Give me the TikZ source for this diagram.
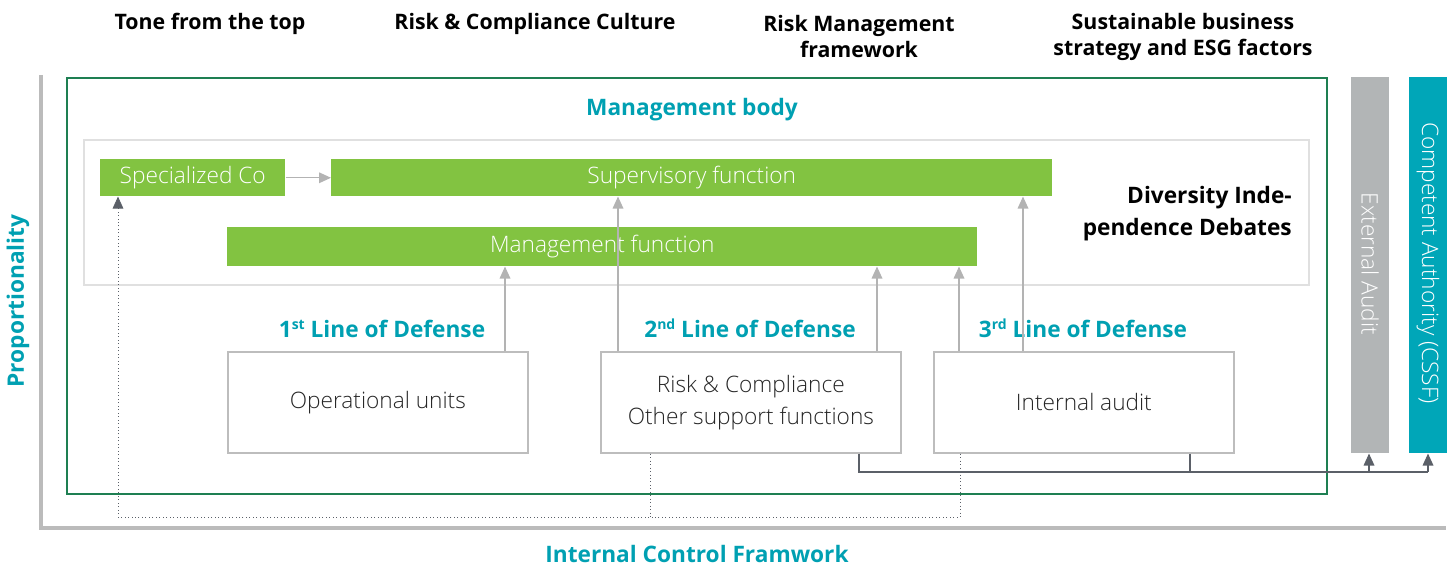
\documentclass[tikz,border=0pt]{standalone}
\usepackage{fontspec}
\setmainfont{Open Sans}
\newfontfamily\lightfont{Open Sans Light}
\usetikzlibrary{arrows.meta}
\definecolor{icfteal}{HTML}{00A0B2}
\definecolor{barteal}{HTML}{00A6B8}
\definecolor{icfgreen}{HTML}{82C341}
\definecolor{frgreen}{HTML}{1E7F52}
\definecolor{axisgray}{HTML}{BBBBBB}
\definecolor{panelgray}{HTML}{E0E0E0}
\definecolor{boxgray}{HTML}{BDBDBD}
\definecolor{arrgray}{HTML}{B3B3B3}
\definecolor{darkline}{HTML}{5B6068}
\definecolor{extgray}{HTML}{B2B5B6}
\newcommand\pxu{0.75pt}
\newcommand\headsize{\fontsize{16}{19.5}\selectfont}
\newcommand\bodysize{\fontsize{17}{24}\selectfont}
\newcommand\ordsup[1]{\raisebox{0.36em}[0pt][0pt]{\fontsize{10.5}{10.5}\selectfont #1}}
\begin{document}
\begin{tikzpicture}[x=0.75pt,y=-0.75pt,
  heading/.style={font=\headsize\bfseries, text=black, align=center, inner sep=0pt},
  tealhead/.style={font=\bodysize\bfseries, text=icfteal, inner sep=0pt},
  greenbar/.style={fill=icfgreen, draw=none, inner sep=0pt, anchor=north west,
    text=white, font=\bodysize\lightfont},
  unitbox/.style={draw=boxgray, line width=1.3pt, fill=white, inner sep=0pt,
    anchor=north west, align=center, font=\bodysize\lightfont, text=black!85},
  sidebar/.style={inner sep=0pt, anchor=north west, draw=none},
  sidetext/.style={rotate=-90, text=white, font=\bodysize\lightfont, inner sep=0pt},
  garrow/.style={draw=arrgray, line width=0.9pt, -{Triangle[length=9pt,width=8pt]}},
  dline/.style={draw=darkline, line width=0.9pt},
  darrow/.style={draw=darkline, line width=0.9pt, -{Triangle[length=9pt,width=8pt]}},
  dotline/.style={draw=darkline, line width=0.6pt, dotted},
]
\useasboundingbox (0,0) rectangle (1456,567);

% axis frame
\draw[axisgray, line width=2.4pt] (41,75) -- (41,528) -- (1446,528);
\node[tealhead, rotate=90] (prop) at (18,301) {Proportionality};
\node[tealhead] (icf) at (697,554) {Internal Control Framwork};

% top headings
\node[heading] (tone) at (210,24) {Tone from the top};
\node[heading] (culture) at (535,24) {Risk \& Compliance Culture};
\node[heading] (rmf) at (859,37) {Risk Management\\framework};
\node[heading] (esg) at (1183,37) {Sustainable business\\strategy and ESG factors};

% management body frame and panel
\draw[frgreen, line width=1.1pt] (67,78) rectangle (1327,494);
\node[tealhead] (mb) at (692,110) {Management body};
\draw[panelgray, line width=1.1pt] (84,140) rectangle (1309,285);

% green bars
\node[greenbar, minimum width=185*\pxu, minimum height=37*\pxu] (spec) at (100,159) {Specialized Co};
\node[greenbar, minimum width=721*\pxu, minimum height=37*\pxu] (sup) at (331,159) {Supervisory function};
\node[greenbar, minimum width=750*\pxu, minimum height=39*\pxu] (mgmt) at (227,227) {Management function};
\draw[garrow] (spec.east) -- (sup.west);

\node[tealhead, text=black, align=right, anchor=east] (div) at (1292,214) {Diversity Inde-\\pendence Debates};

% lines of defense
\node[tealhead] (l1) at (382,329) {1\ordsup{st} Line of Defense};
\node[tealhead] (l2) at (750,329) {2\ordsup{nd} Line of Defense};
\node[tealhead] (l3) at (1083,329) {3\ordsup{rd} Line of Defense};

\node[unitbox, minimum width=300*\pxu, minimum height=101*\pxu] (ops) at (227,351) {Operational units};
\node[unitbox, minimum width=300*\pxu, minimum height=101*\pxu] (risk) at (600,351) {Risk \& Compliance\\Other support functions};
\node[unitbox, minimum width=300*\pxu, minimum height=101*\pxu] (audit) at (933,351) {Internal audit};

% reporting arrows
\draw[garrow] (505,0 |- ops.north) -- (505,0 |- mgmt.south);
\draw[garrow] (618,0 |- risk.north) -- (618,0 |- sup.south);
\draw[garrow] (877,0 |- risk.north) -- (877,0 |- mgmt.south);
\draw[garrow] (959,0 |- audit.north) -- (959,0 |- mgmt.south);
\draw[garrow] (1023,0 |- audit.north) -- (1023,0 |- sup.south);

% external bars
\node[sidebar, fill=extgray, minimum width=38*\pxu, minimum height=376*\pxu] (ext) at (1351,77) {};
\node[sidetext] (extt) at (1370,264) {External Audit};
\node[sidebar, fill=barteal, minimum width=38*\pxu, minimum height=376*\pxu] (cssf) at (1409,77) {};
\node[sidetext] (cssft) at (1428,263) {Competent Authority (CSSF)};

% reporting to external parties
\coordinate (jr) at (1428,472);
\draw[dline] (859,0 |- risk.south) |- (jr);
\draw[dline] (1190,0 |- audit.south) -- (1190,472);
\draw[darrow] (jr) -- (jr |- cssf.south);
\draw[darrow] (1369,472) -- (1369,0 |- ext.south);

% dotted escalation path
\coordinate (dl) at (118,517);
\draw[dotline] (960,0 |- audit.south) |- (dl) -- (118,0 |- spec.south);
\draw[darkline, line width=0.6pt, -{Triangle[length=9pt,width=8pt]}] (118,204) -- (118,0 |- spec.south);
\draw[dotline] (650,0 |- risk.south) -- (650,517);
\end{tikzpicture}
\end{document}
